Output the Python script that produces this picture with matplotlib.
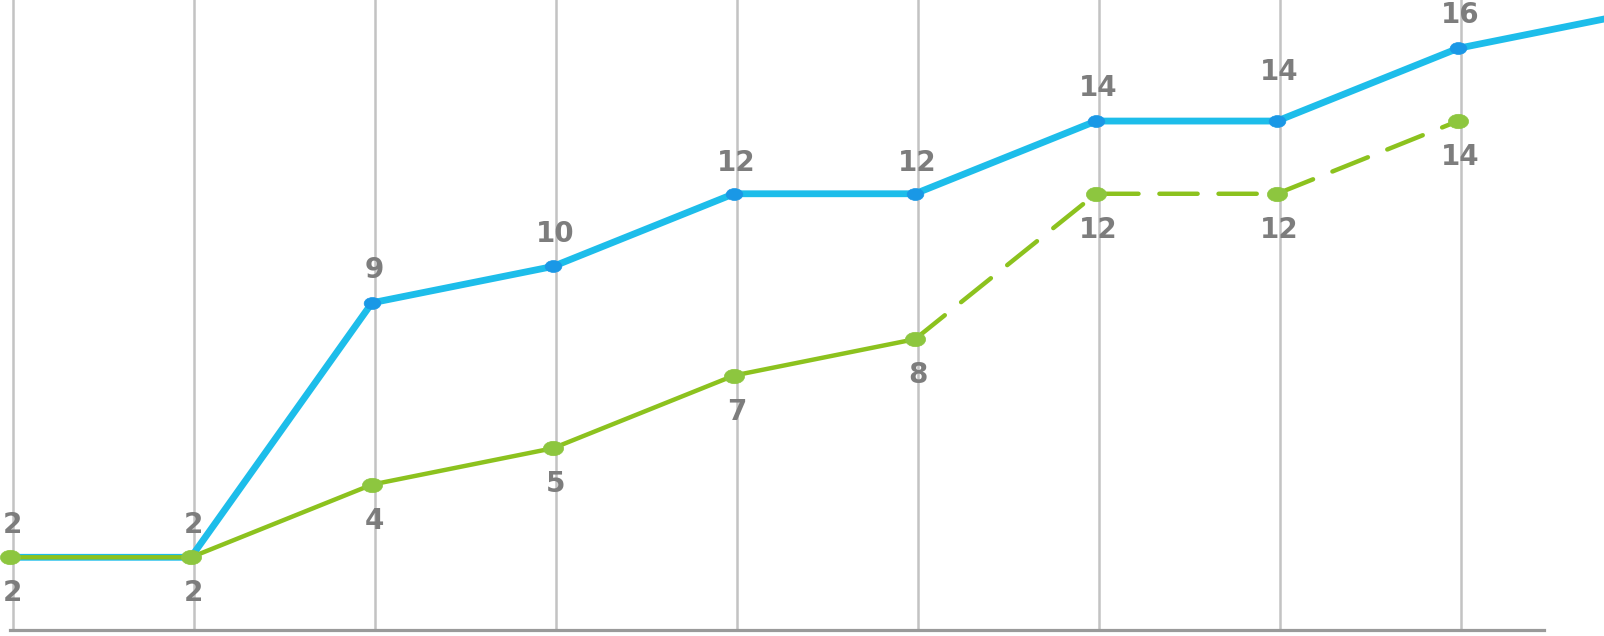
import matplotlib
matplotlib.use("Agg")
import matplotlib.pyplot as plt
from matplotlib.path import Path
from matplotlib.transforms import Affine2D, ScaledTranslation

# data
positions = [0, 1, 2, 3, 4, 5, 6, 7, 8, 9]
blue_values = [2, 2, 9, 10, 12, 12, 14, 14, 16, 17]
blue_labels = ["2", "2", "9", "10", "12", "12", "14", "14", "16"]
green_values = [2, 2, 4, 5, 7, 8, 12, 12, 14]
green_labels = ["2", "2", "4", "5", "7", "8", "12", "12", "14"]
green_solid_until = 5  # index where dashed part starts

# style
blue_label_offsets = [23.5, 23.5, 23.5, 23.5, 22.5, 22.5, 23.5, 35, 24]

BLUE = "#1DBDEA"
BLUE_MK = "#1A98E6"
GREEN = "#8CC21E"
GREEN_MK = "#8DC63F"
LABEL = "#7D7D7D"

fig = plt.figure(figsize=(16.04, 6.36), dpi=100)
ax = fig.add_axes([10 / 1604, 6 / 636, 1534 / 1604, 630 / 636])
ax.set_xlim(0, 8.475)
ax.set_ylim(0, 17.33)

# grid lines sit slightly right of the markers in the reference
grid_tr = ax.get_xaxis_transform() + ScaledTranslation(2.5 / 100, 0, fig.dpi_scale_trans)
for x in positions[:9]:
    ax.plot([x, x], [0, 1], color="#C3C3C3", lw=1.8, zorder=1, clip_on=False,
            transform=grid_tr)

for s in ["top", "right", "left"]:
    ax.spines[s].set_visible(False)
ax.spines["bottom"].set_color("#9A9A9A")
ax.spines["bottom"].set_linewidth(2.3)
ax.spines["bottom"].set_zorder(2)
ax.set_xticks([])
ax.set_yticks([])

ellipse = Path.unit_circle().transformed(Affine2D().scale(1.4, 1.0))

# blue series
ax.plot(positions, blue_values, color=BLUE, lw=4.9, zorder=3, clip_on=False,
        solid_capstyle="round", solid_joinstyle="round")
ax.plot(positions[:9], blue_values[:9], ls="none", marker=ellipse, ms=12,
        mfc=BLUE_MK, mec=BLUE_MK, mew=0.5, zorder=4, clip_on=False)

# green series
gx = positions[:len(green_values)]
k = green_solid_until
ax.plot(gx[:k + 1], green_values[:k + 1], color=GREEN, lw=3.2, zorder=5,
        clip_on=False, solid_capstyle="round")
ax.plot(gx[k:], green_values[k:], color=GREEN, lw=3.2, zorder=5, clip_on=False,
        dashes=(8.6, 4.7), dash_capstyle="round")
ax.plot(gx, green_values, ls="none", marker=ellipse, ms=14.5,
        mfc=GREEN_MK, mec=GREEN_MK, mew=0.5, zorder=6, clip_on=False)

font = dict(family=["DejaVu Sans"], fontsize=20,
            fontweight="bold", color=LABEL)
for x, v, t, dy in zip(positions, blue_values, blue_labels, blue_label_offsets):
    ax.annotate(t, (x, v), xytext=(1.8, dy), textcoords="offset points",
                ha="center", va="center", zorder=7, annotation_clip=False, **font)
for x, v, t in zip(gx, green_values, green_labels):
    ax.annotate(t, (x, v), xytext=(1.8, -26), textcoords="offset points",
                ha="center", va="center", zorder=7, annotation_clip=False, **font)

fig.savefig("out.png", dpi=100)
